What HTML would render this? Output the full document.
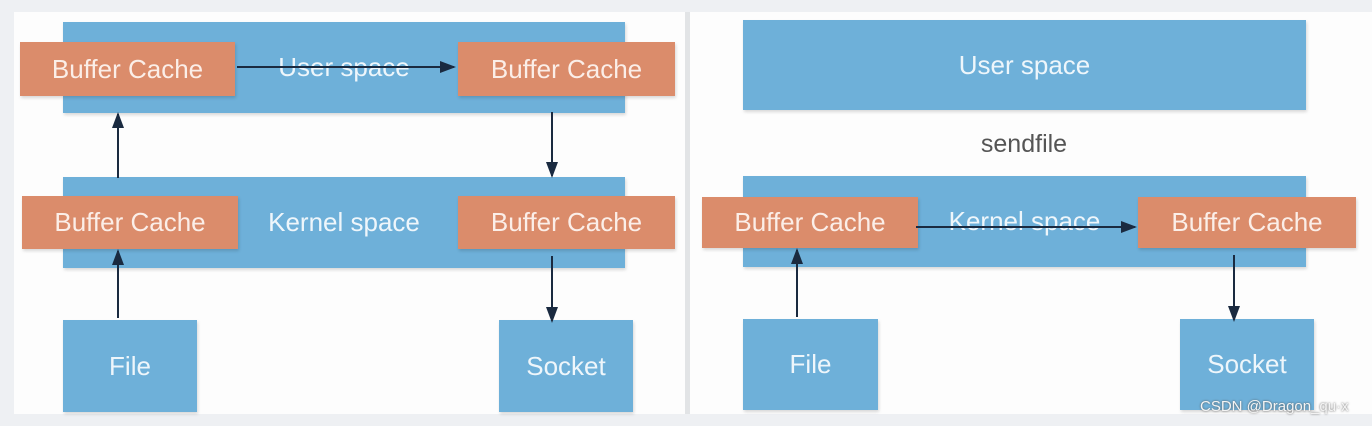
<!DOCTYPE html>
<html><head><style>
body{margin:0;width:1372px;height:426px;background:#eef0f3;position:relative;overflow:hidden;font-family:"Liberation Sans",sans-serif;}
.p{position:absolute;background:#fdfdfd;}
.b{position:absolute;background:#6eb0d9;color:#eef6fb;font-size:26px;display:flex;align-items:center;justify-content:center;box-shadow:1px 2px 3px rgba(0,0,0,.15);}
.o{position:absolute;background:#db8c6b;color:#fbeee8;font-size:26px;display:flex;align-items:center;justify-content:center;box-shadow:1px 2px 3px rgba(0,0,0,.15);}
svg{position:absolute;left:0;top:0;}
</style></head><body>
<div class="p" style="left:14px;top:12px;width:671px;height:402px"></div>
<div class="p" style="left:690px;top:12px;width:682px;height:402px"></div>
<div style="position:absolute;left:685px;top:12px;width:5px;height:402px;background:#e2e4e6"></div>

<div class="b" style="left:63px;top:22px;width:562px;height:91px">User space</div>
<div class="o" style="left:20px;top:42px;width:215px;height:54px">Buffer Cache</div>
<div class="o" style="left:458px;top:42px;width:217px;height:54px">Buffer Cache</div>
<div class="b" style="left:63px;top:177px;width:562px;height:91px">Kernel space</div>
<div class="o" style="left:22px;top:196px;width:216px;height:53px">Buffer Cache</div>
<div class="o" style="left:458px;top:196px;width:217px;height:53px">Buffer Cache</div>
<div class="b" style="left:63px;top:320px;width:134px;height:92px">File</div>
<div class="b" style="left:499px;top:320px;width:134px;height:92px">Socket</div>

<div class="b" style="left:743px;top:20px;width:563px;height:90px">User space</div>
<div style="position:absolute;left:924px;top:130px;width:200px;text-align:center;font-size:25px;color:#555">sendfile</div>
<div class="b" style="left:743px;top:176px;width:563px;height:91px">Kernel space</div>
<div class="o" style="left:702px;top:197px;width:216px;height:51px">Buffer Cache</div>
<div class="o" style="left:1138px;top:197px;width:218px;height:51px">Buffer Cache</div>
<div class="b" style="left:743px;top:319px;width:135px;height:91px">File</div>
<div class="b" style="left:1180px;top:319px;width:134px;height:91px">Socket</div>

<svg width="1372" height="426">
<defs><marker id="a" markerWidth="8" markerHeight="8" refX="7" refY="4" orient="auto"><path d="M0,1 L8,4 L0,7 z" fill="#1a2a40"/></marker></defs>
<g stroke="#1a2a40" stroke-width="2" marker-end="url(#a)">
<line x1="237" y1="67" x2="454" y2="67"/>
<line x1="118" y1="178" x2="118" y2="114"/>
<line x1="118" y1="318" x2="118" y2="251"/>
<line x1="552" y1="112" x2="552" y2="176"/>
<line x1="552" y1="256" x2="552" y2="321"/>
<line x1="916" y1="227" x2="1135" y2="227"/>
<line x1="797" y1="317" x2="797" y2="250"/>
<line x1="1234" y1="255" x2="1234" y2="320"/>
</g></svg>
<div style="position:absolute;left:1200px;top:398px;font-size:15px;color:#f4f4f4;text-shadow:0 0 2px #555">CSDN @Dragon_qu·x</div>
</body></html>
